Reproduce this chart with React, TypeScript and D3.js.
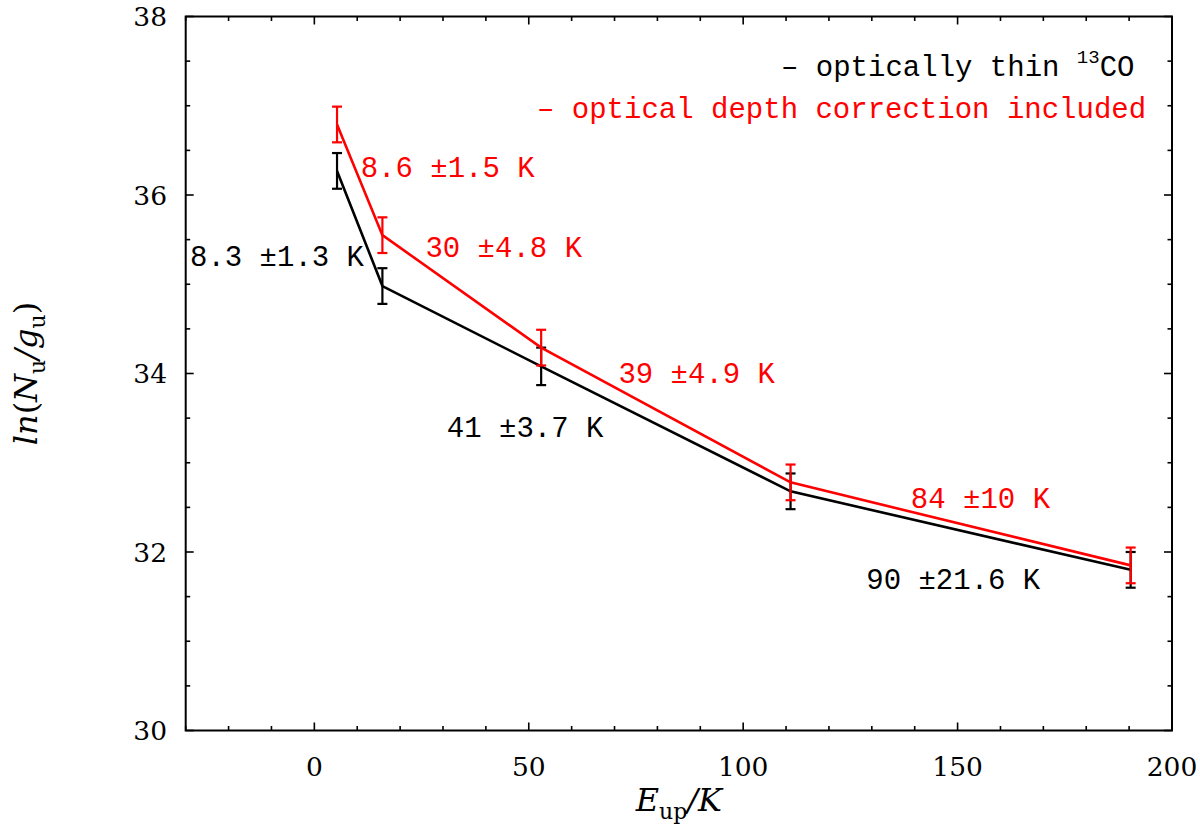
import React from "react";
import * as d3 from "d3";

// upper level energies (K) of the 13CO transitions
const energies = [5.29, 15.87, 52.89, 111.05, 190.36];
// optically thin 13CO
const thinLnN = [36.27, 34.98, 34.08, 32.68, 31.8];
const thinErr = [0.2, 0.2, 0.21, 0.2, 0.2];
// optical depth correction included
const corrLnN = [36.79, 35.55, 34.29, 32.78, 31.85];
const corrErr = [0.2, 0.2, 0.2, 0.2, 0.2];

const thinLabels = ["8.3 ±1.3 K", "41 ±3.7 K", "90 ±21.6 K"];
const thinLabelAt = [[-29.0, 35.2], [30.9, 33.29], [128.7, 31.59]];
const corrLabels = ["8.6 ±1.5 K", "30 ±4.8 K", "39 ±4.9 K", "84 ±10 K"];
const corrLabelAt = [[10.8, 36.2], [25.9, 35.31], [70.9, 33.89], [139.1, 32.49]];

const xTicks = [0, 50, 100, 150, 200];
const yTicks = [30, 32, 34, 36, 38];

const W = 1200;
const H = 828;
const left = 185.7;
const right = 1172;
const top = 16.5;
const bottom = 730.5;

const x = d3.scaleLinear().domain([-30, 200]).range([left, right]);
const y = d3.scaleLinear().domain([30, 38]).range([bottom, top]);

const monoFont = "'Liberation Mono', 'DejaVu Sans Mono', monospace";
const serifFont = "'DejaVu Serif', 'Liberation Serif', serif";

function Series({ vals, errs, color }: { vals: number[]; errs: number[]; color: string }) {
  const line = d3
    .line<number>()
    .x((_, i) => x(energies[i]))
    .y((d) => y(d));
  return (
    <g>
      <path d={line(vals) || ""} fill="none" stroke={color} strokeWidth={2.6} />
      {vals.map((v, i) => {
        const cx = x(energies[i]);
        const y1 = y(v + errs[i]);
        const y2 = y(v - errs[i]);
        return (
          <g key={i} stroke={color} strokeWidth={2.2}>
            <line x1={cx} x2={cx} y1={y1} y2={y2} />
            <line x1={cx - 5} x2={cx + 5} y1={y1} y2={y1} />
            <line x1={cx - 5} x2={cx + 5} y1={y2} y2={y2} />
          </g>
        );
      })}
    </g>
  );
}

export default function App() {
  const xMinor = d3.range(-30, 201, 10);
  const yMinor = d3.range(30, 38.01, 0.5);
  return (
    <svg
      width={W}
      height={H}
      style={{ position: "absolute", left: 0, top: 0, background: "#fff" }}
    >
      <rect x={0} y={0} width={W} height={H} fill="#fff" />
      {/* ticks on all four sides, pointing inward */}
      <g stroke="#000" strokeWidth={1.6}>
        {xMinor.map((t) => {
          const major = t % 50 === 0;
          const len = major ? 8 : 4.5;
          return (
            <g key={"x" + t}>
              <line x1={x(t)} x2={x(t)} y1={bottom} y2={bottom - len} />
              <line x1={x(t)} x2={x(t)} y1={top} y2={top + len} />
            </g>
          );
        })}
        {yMinor.map((t) => {
          const major = Math.abs(t % 2) < 1e-6;
          const len = major ? 8 : 4.5;
          return (
            <g key={"y" + t}>
              <line x1={left} x2={left + len} y1={y(t)} y2={y(t)} />
              <line x1={right} x2={right - len} y1={y(t)} y2={y(t)} />
            </g>
          );
        })}
      </g>
      <rect
        x={left}
        y={top}
        width={right - left}
        height={bottom - top}
        fill="none"
        stroke="#000"
        strokeWidth={2}
      />
      {/* tick labels */}
      <g fontFamily={serifFont} fontSize={26.5} fill="#000">
        {xTicks.map((t) => (
          <text key={"xl" + t} x={x(t)} y={776} textAnchor="middle">
            {t}
          </text>
        ))}
        {yTicks.map((t) => (
          <text key={"yl" + t} x={167} y={y(t)} dy="0.36em" textAnchor="end">
            {t}
          </text>
        ))}
      </g>
      {/* axis titles */}
      <text x={(left + right) / 2} y={811} textAnchor="middle" fontFamily={serifFont} fontSize={32}>
        <tspan fontStyle="italic">E</tspan>
        <tspan fontSize={22} dy={8}>up</tspan>
        <tspan fontStyle="italic" dy={-8}>/K</tspan>
      </text>
      <text
        transform={`translate(37,${(top + bottom) / 2}) rotate(-90)`}
        textAnchor="middle"
        fontFamily={serifFont}
        fontSize={32}
      >
        <tspan fontStyle="italic">ln</tspan>
        <tspan>(</tspan>
        <tspan fontStyle="italic">N</tspan>
        <tspan fontSize={22} dy={8}>u</tspan>
        <tspan fontStyle="italic" dy={-8}>/g</tspan>
        <tspan fontSize={22} dy={8}>u</tspan>
        <tspan dy={-8}>)</tspan>
      </text>
      <Series vals={thinLnN} errs={thinErr} color="#000" />
      <Series vals={corrLnN} errs={corrErr} color="#ff0000" />
      {/* temperature annotations */}
      <g fontFamily={monoFont} fontSize={29}>
        {thinLabels.map((s, i) => (
          <text key={"tl" + i} x={x(thinLabelAt[i][0])} y={y(thinLabelAt[i][1])} fill="#000">
            {s}
          </text>
        ))}
        {corrLabels.map((s, i) => (
          <text key={"cl" + i} x={x(corrLabelAt[i][0])} y={y(corrLabelAt[i][1])} fill="#ff0000">
            {s}
          </text>
        ))}
      </g>
      {/* legend */}
      <g fontFamily={monoFont} fontSize={29}>
        <text x={781} y={76} fill="#000" style={{ whiteSpace: "pre" }}>
          {"– optically thin "}
          <tspan fontSize={19} dy={-13}>13</tspan>
          <tspan dy={13}>CO</tspan>
        </text>
        <text x={537} y={118} fill="#ff0000" style={{ whiteSpace: "pre" }}>
          {"– optical depth correction included"}
        </text>
      </g>
    </svg>
  );
}
